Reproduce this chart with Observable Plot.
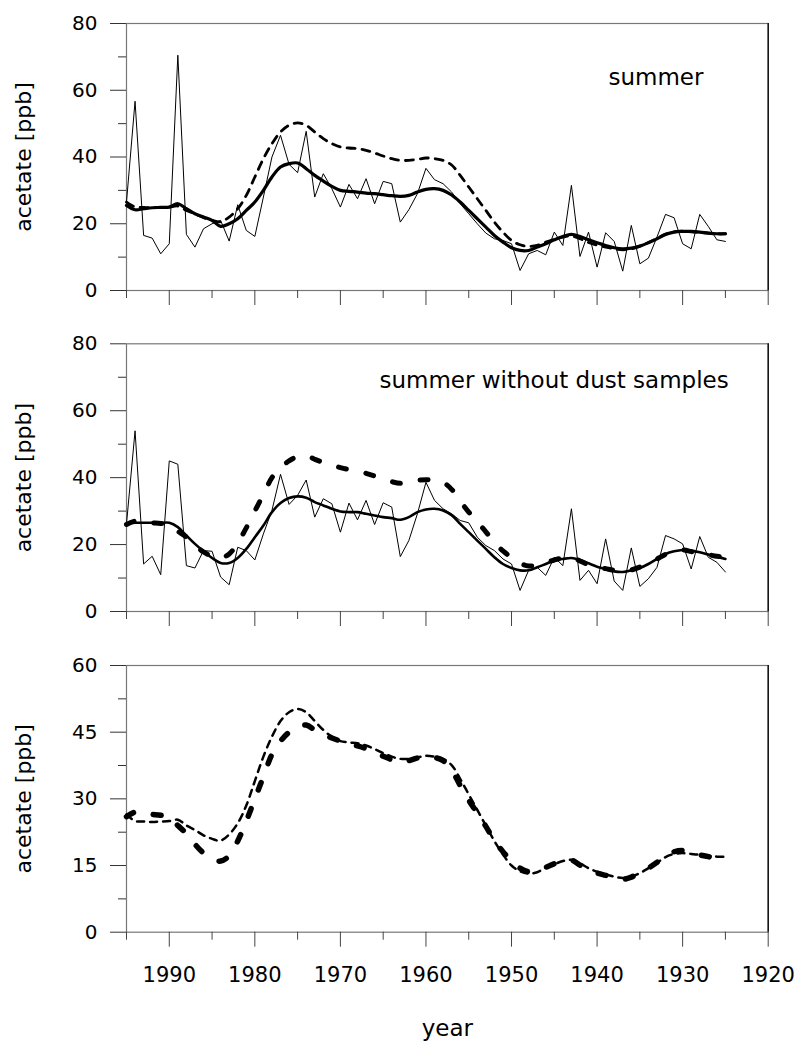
<!DOCTYPE html>
<html><head><meta charset="utf-8">
<script src="https://cdn.jsdelivr.net/npm/d3@7"></script>
<script src="https://cdn.jsdelivr.net/npm/@observablehq/plot@0.6"></script>
<style>
html,body{margin:0;padding:0;background:#fff;}
#chart{width:797px;}
#chart svg{display:block;}
</style></head><body><div id="chart"></div>
<script>
// ---- data ----
const years = [1995,1994,1993,1992,1991,1990,1989,1988,1987,1986,
  1985,1984,1983,1982,1981,1980,1979,1978,1977,1976,
  1975,1974,1973,1972,1971,1970,1969,1968,1967,1966,
  1965,1964,1963,1962,1961,1960,1959,1958,1957,1956,
  1955,1954,1953,1952,1951,1950,1949,1948,1947,1946,
  1945,1944,1943,1942,1941,1940,1939,1938,1937,1936,
  1935,1934,1933,1932,1931,1930,1929,1928,1927,1926,
  1925];

// panel 1: summer, annual values
const summerRaw = [26.5,56.7,16.5,15.7,11,14,70.5,16.8,13,18.5,
  20,21,14.8,25.7,18,16.2,28,40,46.5,37.8,
  35.3,47.7,28,35,30.5,25,31.8,27.5,33.5,26,
  32.7,32,20.5,24.2,29,36.6,33.2,32,29.5,26,
  23,20,17.2,15.5,15,14,6,11,12,10.7,
  17.5,13.5,31.5,10.2,17.5,7,17.3,14.7,5.8,19.5,
  8,9.7,16,22.8,21.8,14,12.5,22.8,19.2,15.2,
  14.7];
// panel 1: smoothed summer (solid)
const summerSmooth = [25.5,24.2,24.5,24.8,24.9,25,26,24.5,23,22,
  21,19.2,20,21.5,24,26.5,30,34,37,38,
  38.2,36.5,34.5,32.8,31.2,30,29.7,29.5,29.2,29,
  28.7,28.4,28.2,28.5,29.5,30.3,30.5,30,28.6,26.5,
  24,21.5,19,16.5,14.5,12.8,12,12,13,14,
  15.2,16.2,16.8,16.2,15.2,14.3,13.5,12.8,12.5,12.7,
  13.3,14.3,15.5,16.8,17.5,17.7,17.7,17.5,17.2,17,
  17];
// panel 1 & 3: smoothed summer, dashed
const summerDashed = [26.5,25,24.9,24.8,24.9,25,25.3,24,23,21.8,
  21,20.6,22,24.5,28.5,34,39.5,44,47.5,49.5,
  50.2,49.5,47.5,45.5,44,43,42.7,42.5,42,41.2,
  40.3,39.5,39,39,39.3,39.7,39.5,39,37.6,34.5,
  31,27.5,24,20.5,17.5,15,13.7,13.2,13.5,14.5,
  15.3,16,16.3,15.5,14.4,13.6,13,12.5,12.2,12.5,
  13.3,14.4,15.6,16.9,17.6,17.8,17.6,17.4,17.2,17,
  17];
// panel 2: summer without dust samples, annual values
const noDustRaw = [26.2,54,14.2,16.5,11,45,44,13.7,13,18.2,
  18,10.3,8,19.2,18.2,15.4,23.2,30.2,41,32,
  34.7,39.3,28.2,33.7,32.2,23.7,32.4,27.4,33.2,26,
  32.5,31.2,16.4,21.2,29.2,38.6,33.2,30.7,29.2,27.2,
  26.5,22.2,19.7,18.2,15.7,14.2,6.3,12.3,13.2,10.8,
  16.2,13.7,30.7,9.3,12.3,8.3,21.7,9.1,6.3,19,
  7.5,9.8,13.2,22.7,21.7,20.2,12.7,22.4,16.2,14.7,
  11.8];
// panel 2: smoothed (solid)
const noDustSmooth = [26.2,26.5,26.5,26.5,26.5,26.5,25.2,22.7,20.2,18,
  16,14.5,14.5,16,18.7,22.2,25.7,29.7,32.4,33.9,
  34.4,34,32.7,31.7,30.7,29.9,29.7,29.7,29.2,28.7,
  28.2,27.9,27.4,28.2,29.7,30.5,30.7,30.2,28.8,26.2,
  23.7,21.2,18.7,16.2,14.2,13,12.3,12.3,13.2,14.2,
  15.2,15.7,16,15.4,14.4,13.4,12.7,12,11.8,12.3,
  13,14.2,15.7,17.2,18,18.4,18.2,17.7,17,16.4,
  15.7];
// panel 2 & 3: thick dashed
const noDustDashed = [26,27,26.7,26.5,26.3,26,24,22.2,19.8,17.8,
  16.5,16,17.2,20.5,25,30,35,40,43,45,
  46.3,46.6,45.5,44.5,43.7,43,42.4,41.9,41.3,40.5,
  39.6,38.8,38.3,38.6,39.2,39.4,39.3,38.6,36.5,33,
  29.7,26.8,23.8,20.6,18.1,16.1,14.4,13.6,13.9,14.6,
  15.4,16,16.2,15.1,14,13.3,12.8,12.3,11.9,12.4,
  13.3,14.4,15.7,17.1,18.1,18.4,17.9,17.4,17,16.5,
  16.5];

const xMajor = [1990,1980,1970,1960,1950,1940,1930,1920];
const xMinor = [1995,1985,1975,1965,1955,1945,1935,1925];
const yMajor80 = [0,20,40,60,80];
const yMinor80 = [10,30,50,70];
const yMajor60 = [0,15,30,45,60];
const yMinor60 = [7.5,22.5,37.5,52.5];
const yLabel = "acetate [ppb]";
const xLabel = "year";
const titles = ["summer", "summer without dust samples"];

// ---- build ----
const table = arr => years.map((y, i) => ({year: y, v: arr[i]}));
const FONT = "'DejaVu Sans', sans-serif";

function line(arr, o) {
  return Plot.line(table(arr), {x: "year", y: "v", stroke: "black",
    strokeLinejoin: "round", ...o});
}

function panel({height, marginTop, marginBottom, yMax, yMajor, yMinor, lines, title, titleDx, titleDy, xLabels}) {
  const marks = [
    Plot.frame({stroke: "#777", strokeWidth: 1.2}),
    Plot.ruleX([1920], {stroke: "black", strokeWidth: 1.3}),
    Plot.axisY(yMajor, {tickSize: 16, tickPadding: 13, stroke: "#333", fontSize: 20, label: null, tickFormat: d => String(d)}),
    Plot.axisY(yMinor, {tickSize: 8, stroke: "#333", label: null, tickFormat: () => ""}),
    Plot.axisX(xMajor, {tickSize: 15, tickPadding: 20, stroke: "#444", fontSize: 21, label: null, tickFormat: xLabels ? (d => String(d)) : (() => "")}),
    Plot.axisX(xMinor, {tickSize: 8, stroke: "#444", label: null, tickFormat: () => ""}),
    Plot.text([yLabel], {text: d => d, frameAnchor: "left", dx: -103, rotate: -90, fontSize: 22, textAnchor: "middle", lineAnchor: "middle"}),
    ...lines
  ];
  if (title) marks.push(Plot.text([title], {text: d => d, frameAnchor: "top-left", dx: titleDx, dy: titleDy, textAnchor: "start", lineAnchor: "bottom", fontSize: 23}));
  if (xLabels) marks.push(Plot.text([xLabel], {text: d => d, frameAnchor: "bottom", dy: 104, lineAnchor: "bottom", fontSize: 23}));
  return Plot.plot({
    width: 797, height, marginLeft: 126, marginRight: 29.3, marginTop, marginBottom,
    style: {fontFamily: FONT, fontSize: "20px", color: "black", background: "white", display: "block"},
    x: {domain: [1995, 1920], axis: null},
    y: {domain: [0, yMax], axis: null},
    marks
  });
}

const chart = document.getElementById("chart");

chart.append(panel({
  height: 310, marginTop: 23, marginBottom: 20, yMax: 80, yMajor: yMajor80, yMinor: yMinor80,
  title: titles[0], titleDx: 482, titleDy: 61,
  lines: [
    line(summerDashed, {strokeWidth: 2.8, strokeDasharray: "8,7", curve: "catmull-rom"}),
    line(summerSmooth, {strokeWidth: 3.2, curve: "catmull-rom"}),
    line(summerRaw, {strokeWidth: 1})
  ]
}));

chart.append(panel({
  height: 330, marginTop: 33.3, marginBottom: 29, yMax: 80, yMajor: yMajor80, yMinor: yMinor80,
  title: titles[1], titleDx: 253, titleDy: 44,
  lines: [
    line(noDustDashed, {strokeWidth: 5, strokeDasharray: "8,20", strokeLinecap: "round", curve: "catmull-rom"}),
    line(noDustSmooth, {strokeWidth: 2.6, curve: "catmull-rom"}),
    line(noDustRaw, {strokeWidth: 1})
  ]
}));

chart.append(panel({
  height: 408, marginTop: 25, marginBottom: 116.3, yMax: 60, yMajor: yMajor60, yMinor: yMinor60,
  xLabels: true,
  lines: [
    line(summerDashed, {strokeWidth: 2.5, strokeDasharray: "7,6", curve: "catmull-rom"}),
    line(noDustDashed, {strokeWidth: 5.5, strokeDasharray: "8,20", strokeLinecap: "round", curve: "catmull-rom"})
  ]
}));
</script></body></html>
